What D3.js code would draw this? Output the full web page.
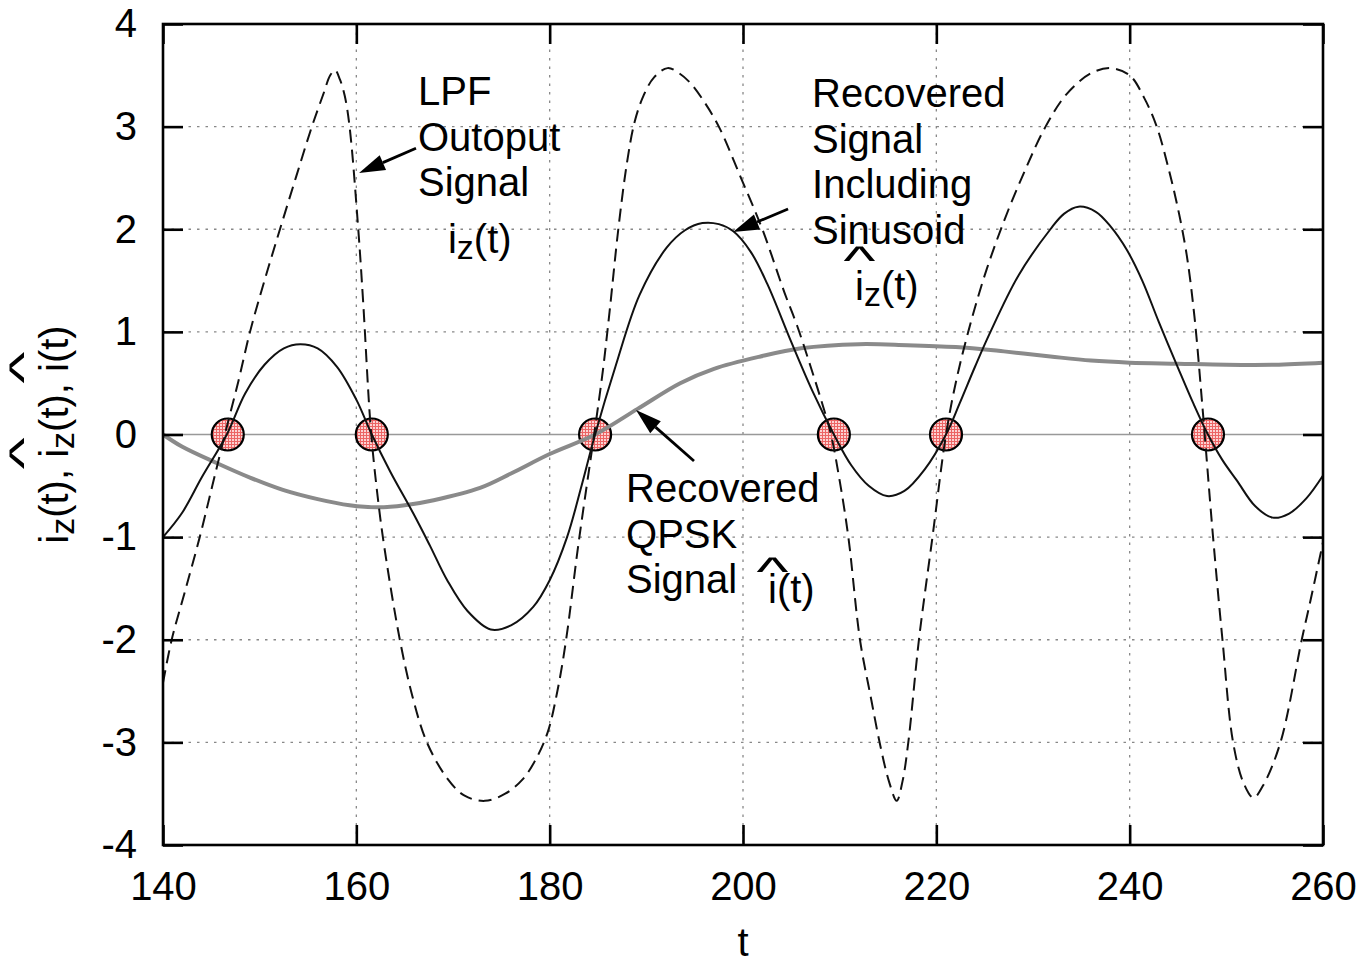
<!DOCTYPE html>
<html>
<head>
<meta charset="utf-8">
<script src="https://cdn.jsdelivr.net/npm/d3@7"></script>
<style>
body { margin: 0; background: #fff; }
text { font-family: "Liberation Sans", Arial, Helvetica, sans-serif; fill: #000; }
</style>
</head>
<body>
<script>
// LPF output i_z(t)  (dashed)
const tLpf = [140, 140.9, 142.3, 143.8, 145.1, 146.4, 147.8, 149.0, 150.5, 152.1, 153.8, 155.4, 156.6, 157.3, 157.8, 158.3, 158.8, 159.3, 160.2, 160.7, 161.5, 162.2, 162.9, 164.5, 165.8, 167.3, 169.4, 171.2, 173.3, 175.4, 177.2, 178.6, 179.8, 180.8, 181.7, 183.0, 184.6, 185.5, 186.2, 187.1, 188.0, 188.8, 189.7, 190.8, 192.2, 193.4, 194.6, 196.0, 197.5, 199.7, 202.0, 204.3, 205.6, 207.0, 208.2, 209.1, 210.0, 210.9, 212.1, 213.2, 214.2, 215.1, 215.9, 216.5, 217.1, 218.2, 219.6, 221.0, 222.0, 223.3, 225.0, 227.0, 229.2, 231.3, 233.5, 236.0, 238.0, 240.0, 241.5, 242.8, 244.0, 245.0, 245.9, 246.7, 247.5, 248.6, 249.6, 250.7, 251.8, 252.8, 253.8, 255.6, 257.8, 258.7, 260];
const lpfOut = [-2.42, -2.0, -1.52, -1.0, -0.5, 0.0, 0.52, 1.0, 1.5, 2.0, 2.52, 3.0, 3.32, 3.5, 3.55, 3.46, 3.3, 3.0, 2.0, 1.3, 0.05, -0.6, -1.1, -2.0, -2.55, -3.0, -3.35, -3.52, -3.57, -3.5, -3.36, -3.16, -2.9, -2.5, -2.0, -1.05, 0.0, 0.62, 1.2, 2.0, 2.65, 3.05, 3.3, 3.48, 3.57, 3.52, 3.42, 3.24, 3.0, 2.52, 2.0, 1.38, 1.06, 0.66, 0.3, 0.0, -0.45, -1.0, -2.0, -2.55, -3.03, -3.38, -3.57, -3.38, -3.0, -2.0, -1.0, 0.0, 0.5, 1.0, 1.55, 2.08, 2.58, 3.0, 3.32, 3.52, 3.57, 3.5, 3.28, 3.0, 2.6, 2.2, 1.75, 1.15, 0.3, -0.97, -2.0, -3.0, -3.4, -3.54, -3.42, -3.0, -2.0, -1.62, -1.05];

// recovered signal including sinusoid (solid)
const tRec = [140, 142, 144, 146.6, 148.5, 150.5, 152.5, 154.2, 156, 158, 160, 161.6, 163.5, 165.9, 167.6, 169.4, 171.5, 173.9, 176, 178.3, 180, 181.8, 183.3, 184.7, 186.8, 189.3, 192.1, 194, 195.8, 197.5, 199, 200.8, 202.5, 205, 207.2, 209.4, 211.2, 213, 214.9, 216.7, 218.8, 221.0, 222.4, 224, 225.5, 228.5, 231.8, 233.2, 234.7, 236.5, 238, 239.7, 241.3, 243, 245, 246.6, 248.1, 249.6, 251.1, 253, 254.8, 256.5, 258.3, 260];
const recSin = [-1.0, -0.76, -0.42, 0, 0.4, 0.68, 0.84, 0.88, 0.84, 0.66, 0.34, 0, -0.36, -0.77, -1.08, -1.42, -1.72, -1.9, -1.86, -1.68, -1.42, -1.0, -0.5, 0, 0.66, 1.36, 1.82, 1.99, 2.06, 2.05, 1.98, 1.78, 1.47, 0.9, 0.42, 0, -0.3, -0.5, -0.6, -0.55, -0.34, 0, 0.3, 0.66, 0.98, 1.55, 2.0, 2.15, 2.22, 2.17, 2.03, 1.8, 1.5, 1.1, 0.65, 0.3, 0, -0.25, -0.45, -0.7, -0.81, -0.77, -0.62, -0.4];

// recovered QPSK signal (thick gray)
const tQpsk = [140, 142, 145.6, 149, 152.4, 156, 159.3, 162.3, 165, 168, 172.8, 176, 180, 184.7, 189.1, 193.5, 197, 201.8, 206, 212, 217, 222.4, 227, 231.8, 236, 240, 245, 250, 255, 260];
const recQpsk = [0, -0.12, -0.28, -0.42, -0.54, -0.63, -0.69, -0.71, -0.69, -0.64, -0.52, -0.38, -0.19, 0, 0.25, 0.5, 0.64, 0.76, 0.84, 0.88, 0.87, 0.85, 0.81, 0.76, 0.72, 0.70, 0.69, 0.68, 0.68, 0.70];

// sampling points (zero crossings)
const sampleT = [146.7, 161.6, 184.7, 209.4, 221.0, 248.1];

const xTicks = [140, 160, 180, 200, 220, 240, 260];
const yTicks = [-4, -3, -2, -1, 0, 1, 2, 3, 4];

const W = 1363, H = 964;
const margin = {top: 24, right: 40, bottom: 119, left: 163};
const FS = 40;

const svg = d3.select("body").append("svg")
  .attr("width", W).attr("height", H);

const x = d3.scaleLinear().domain([140, 260]).range([margin.left, W - margin.right]);
const y = d3.scaleLinear().domain([-4, 4]).range([H - margin.bottom, margin.top]);

// hatched fill for the circles
const pat = svg.append("defs").append("pattern")
  .attr("id", "mesh").attr("patternUnits", "userSpaceOnUse")
  .attr("width", 3).attr("height", 3);
pat.append("rect").attr("width", 3).attr("height", 3).attr("fill", "#fbd2d2");
pat.append("rect").attr("width", 3).attr("height", 1).attr("fill", "#ec6464");
pat.append("rect").attr("width", 1).attr("height", 3).attr("fill", "#ec6464");

// grid
const grid = svg.append("g");
grid.selectAll(".vg").data(xTicks.slice(1, -1)).enter().append("line")
  .attr("x1", d => x(d)).attr("x2", d => x(d))
  .attr("y1", y(4)).attr("y2", y(-4))
  .attr("stroke", "#888").attr("stroke-width", 1.3).attr("stroke-dasharray", "2.5,6");
grid.selectAll(".hg").data(yTicks.filter(d => d !== 0 && Math.abs(d) !== 4)).enter().append("line")
  .attr("x1", x(140)).attr("x2", x(260))
  .attr("y1", d => y(d)).attr("y2", d => y(d))
  .attr("stroke", "#888").attr("stroke-width", 1.3).attr("stroke-dasharray", "2.5,6");
// zero axis
svg.append("line")
  .attr("x1", x(140)).attr("x2", x(260)).attr("y1", y(0)).attr("y2", y(0))
  .attr("stroke", "#999").attr("stroke-width", 1.6);

// circles
svg.selectAll(".pt").data(sampleT).enter().append("circle")
  .attr("cx", d => x(d)).attr("cy", y(0)).attr("r", 16)
  .attr("fill", "url(#mesh)").attr("stroke", "#000").attr("stroke-width", 2.2);

const line = d3.line().x(d => x(d[0])).y(d => y(d[1])).curve(d3.curveCatmullRom.alpha(0.5));

svg.append("path").datum(d3.zip(tQpsk, recQpsk)).attr("d", line)
  .attr("fill", "none").attr("stroke", "#8a8a8a").attr("stroke-width", 4);
svg.append("path").datum(d3.zip(tRec, recSin)).attr("d", line)
  .attr("fill", "none").attr("stroke", "#111").attr("stroke-width", 2);
svg.append("path").datum(d3.zip(tLpf, lpfOut)).attr("d", line)
  .attr("fill", "none").attr("stroke", "#111").attr("stroke-width", 2)
  .attr("stroke-dasharray", "13,7");

// axes (ticks inward on all four sides)
function styleAxis(g) {
  g.select(".domain").remove();
  g.selectAll(".tick line").attr("stroke", "#000").attr("stroke-width", 2.6);
  g.selectAll(".tick text").attr("font-size", FS).attr("fill", "#000")
    .attr("font-family", "'Liberation Sans', Arial, sans-serif");
}
svg.append("g").attr("transform", `translate(0,${y(-4)})`)
  .call(d3.axisBottom(x).tickValues(xTicks).tickSizeInner(-20).tickSizeOuter(0).tickPadding(27).tickFormat(d => String(d)))
  .call(styleAxis);
svg.append("g").attr("transform", `translate(0,${y(4)})`)
  .call(d3.axisTop(x).tickValues(xTicks).tickSizeInner(-20).tickSizeOuter(0).tickFormat(() => ""))
  .call(styleAxis);
svg.append("g").attr("transform", `translate(${x(140)},0)`)
  .call(d3.axisLeft(y).tickValues(yTicks).tickSizeInner(-20).tickSizeOuter(0).tickPadding(26).tickFormat(d => String(d)))
  .call(styleAxis);
svg.append("g").attr("transform", `translate(${x(260)},0)`)
  .call(d3.axisRight(y).tickValues(yTicks).tickSizeInner(-20).tickSizeOuter(0).tickFormat(() => ""))
  .call(styleAxis);

svg.append("rect")
  .attr("x", x(140)).attr("y", y(4))
  .attr("width", x(260) - x(140)).attr("height", y(-4) - y(4))
  .attr("fill", "none").attr("stroke", "#000").attr("stroke-width", 2.6);

// axis titles
svg.append("text").attr("x", (x(140) + x(260)) / 2).attr("y", 956)
  .attr("text-anchor", "middle").attr("font-size", FS).text("t");

// text with optional subscripts, parts: [string, isSub, hasHat]
function richText(parent, parts, anchor) {
  const t = parent.append("text").attr("font-size", FS).attr("text-anchor", anchor || "start");
  let shifted = false;
  parts.forEach(p => {
    const ts = t.append("tspan").text(p[0]);
    if (p[1]) { ts.attr("font-size", 34).attr("dy", 6); shifted = true; }
    else if (shifted) { ts.attr("dy", -6); shifted = false; }
  });
  return t;
}
function addHats(parent, textSel, parts, hatDy) {
  const node = textSel.node();
  let idx = 0;
  parts.forEach(p => {
    if (p[2]) {
      const s = node.getStartPositionOfChar(idx), e = node.getEndPositionOfChar(idx);
      parent.append("text")
        .attr("transform", `translate(${(s.x + e.x) / 2},${s.y + hatDy}) scale(1.7,1)`)
        .attr("text-anchor", "middle").attr("font-size", FS).text("^");
    }
    idx += p[0].length;
  });
}

// y label
const yl = svg.append("g").attr("transform", `translate(68,${y(0)}) rotate(-90)`);
const ylParts = [["i"], ["z", true], ["(t), "], ["i", false, true], ["z", true], ["(t), "], ["i", false, true], ["(t)"]];
const ylText = richText(yl, ylParts, "middle");
addHats(yl, ylText, ylParts, -31);

// annotations, anchored in data coordinates
const noteBlocks = [
  {t: 166.38, v: 3.21, lines: ["LPF", "Outoput", "Signal"]},
  {t: 207.14, v: 3.19, lines: ["Recovered", "Signal", "Including", "Sinusoid"]},
  {t: 187.9, v: -0.66, lines: ["Recovered", "QPSK", "Signal"]}
];
noteBlocks.forEach(b => {
  const t = svg.append("text").attr("font-size", FS).attr("x", x(b.t)).attr("y", y(b.v));
  b.lines.forEach((s, i) => t.append("tspan").attr("x", x(b.t)).attr("dy", i ? 45.5 : 0).text(s));
});

const symbolNotes = [
  {t: 169.48, v: 1.77, parts: [["i"], ["z", true], ["(t)"]], hat: 0},
  {t: 211.59, v: 1.31, parts: [["i", false, true], ["z", true], ["(t)"]], hat: -26},
  {t: 202.59, v: -1.64, parts: [["i", false, true], ["(t)"]], hat: -18}
];
symbolNotes.forEach(n => {
  const g = svg.append("g").attr("transform", `translate(${x(n.t)},${y(n.v)})`);
  const tx = richText(g, n.parts, "start");
  addHats(g, tx, n.parts, n.hat);
});

// arrows: from tail to tip
const arrows = [
  {from: [166.17, 2.79], to: [160.28, 2.548]},
  {from: [204.66, 2.197], to: [198.97, 1.973]},
  {from: [194.93, -0.258], to: [188.93, 0.239]}
];
arrows.forEach(a => {
  const x0 = x(a.from[0]), y0 = y(a.from[1]), x1 = x(a.to[0]), y1 = y(a.to[1]);
  const ang = Math.atan2(y1 - y0, x1 - x0);
  const L = 26, hw = 8;
  const bx = x1 - L * Math.cos(ang), by = y1 - L * Math.sin(ang);
  svg.append("line").attr("x1", x0).attr("y1", y0).attr("x2", bx).attr("y2", by)
    .attr("stroke", "#000").attr("stroke-width", 2.8);
  const pts = [[x1, y1],
    [bx + hw * Math.sin(ang), by - hw * Math.cos(ang)],
    [bx - hw * Math.sin(ang), by + hw * Math.cos(ang)]];
  svg.append("polygon").attr("points", pts.map(p => p.join(",")).join(" ")).attr("fill", "#000");
});
</script>
</body>
</html>
